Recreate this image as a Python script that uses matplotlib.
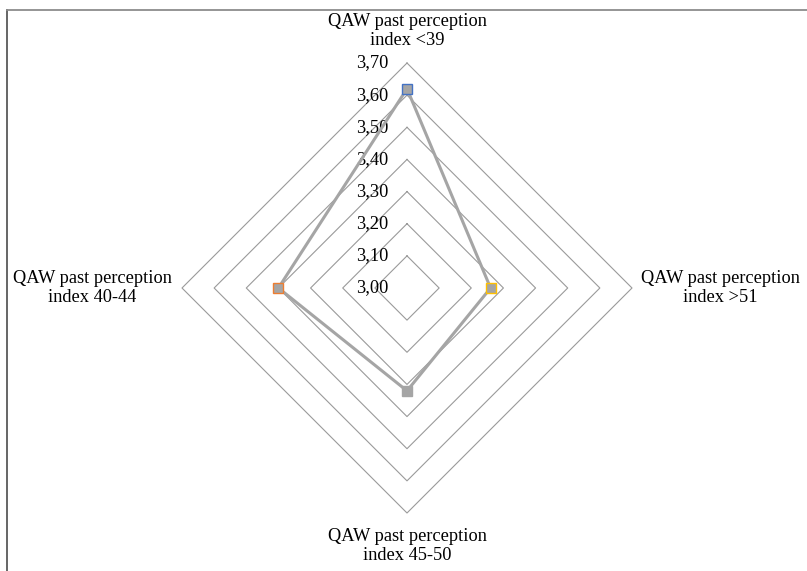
import numpy as np
import matplotlib
matplotlib.use("Agg")
import matplotlib.pyplot as plt

# Categories, listed clockwise from the top spoke
categories = [
    "QAW past perception\nindex <39",
    "QAW past perception\nindex >51",
    "QAW past perception\nindex 45-50",
    "QAW past perception\nindex 40-44",
]
values = [3.62, 3.26, 3.32, 3.40]
point_edge_colors = ["#4472C4", "#FFC000", "#A5A5A5", "#ED7D31"]

r_min, r_max, r_step = 3.00, 3.70, 0.10
tick_values = np.round(np.arange(r_min, r_max + 1e-9, r_step), 2)
tick_labels = [f"{t:.2f}".replace(".", ",") for t in tick_values]

W, H, DPI = 8.07, 5.71, 100
fig = plt.figure(figsize=(W, H), dpi=DPI)
ax = fig.add_axes([0, 0, 1, 1])

# Radial scale: value offset from r_min, in axis units (px per unit value)
px_per_unit = 225 / (r_max - r_min)
cx, cy = 407, 288
ax.set_xlim(-cx / px_per_unit, (W * DPI - cx) / px_per_unit)
ax.set_ylim(-(H * DPI - cy) / px_per_unit, cy / px_per_unit)
ax.axis("off")

# Spoke directions: top, right, bottom, left
angles = np.pi / 2 - np.arange(len(categories)) * 2 * np.pi / len(categories)
ux, uy = np.cos(angles), np.sin(angles)

# Grid diamonds
for t in tick_values[1:]:
    r = t - r_min
    xs = np.append(r * ux, r * ux[0])
    ys = np.append(r * uy, r * uy[0])
    ax.plot(xs, ys, color="#9a9a9a", lw=0.8, zorder=1)

# Radial tick labels on the top spoke
serif = "Liberation Serif"
for t, lab in zip(tick_values, tick_labels):
    ax.text(-19 / px_per_unit, t - r_min, lab, ha="right", va="center",
            fontsize=13.2, family=serif, color="#000000", zorder=3)

# Category labels
R = r_max - r_min
p = 1 / px_per_unit
lab_pos = [
    (0, R + 32 * p),
    (R + 88 * p, 0.0),
    (0, -R - 33 * p),
    (-R - 90 * p, 0.0),
]
for (x, y), cat in zip(lab_pos, categories):
    ax.text(x, y, cat, ha="center", va="center", fontsize=13.2,
            family=serif, linespacing=1.18, multialignment="center")

# Data series
rv = np.array(values) - r_min
px, py = rv * ux, rv * uy
ax.plot(np.append(px, px[0]), np.append(py, py[0]), color="#A5A5A5",
        lw=2.2, zorder=4)
for x, y, ec in zip(px, py, point_edge_colors):
    ax.plot(x, y, marker="s", ms=7.0, mfc="#A5A5A5", mec=ec, mew=1.0,
            zorder=5)

# Chart frame (top and left edges visible)
x0, x1 = -cx * p + 7 * p, (W * DPI - cx) * p
y0, y1 = -(H * DPI - cy) * p, (cy - 10) * p
ax.plot([x0, x0], [y0, y1], color="#595959", lw=1.3, zorder=6,
        solid_capstyle="projecting")
ax.plot([x0, x1], [y1, y1], color="#8c8c8c", lw=1.3, zorder=6,
        solid_capstyle="projecting")

fig.savefig("out.png", dpi=DPI)
